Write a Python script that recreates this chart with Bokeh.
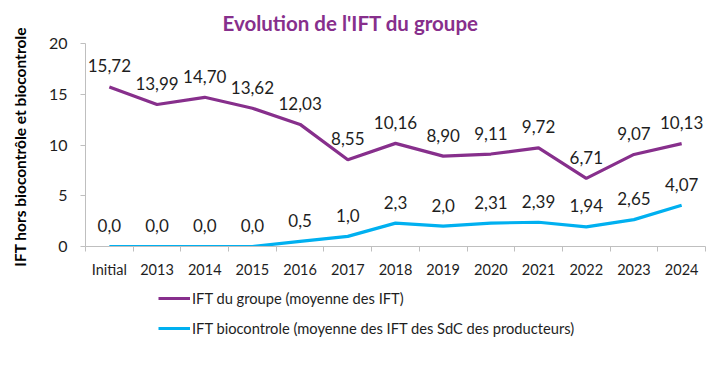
from bokeh.plotting import figure
from bokeh.layouts import column
from bokeh.models import Range1d, FixedTicker, Legend, LegendItem, ColumnDataSource
from bokeh.core.properties import value
from bokeh.embed import file_html
from bokeh.resources import INLINE

categories = ["Initial", "2013", "2014", "2015", "2016", "2017", "2018",
              "2019", "2020", "2021", "2022", "2023", "2024"]
ift_groupe = [15.72, 13.99, 14.70, 13.62, 12.03, 8.55, 10.16, 8.90, 9.11, 9.72, 6.71, 9.07, 10.13]
ift_groupe_labels = ["15,72", "13,99", "14,70", "13,62", "12,03", "8,55", "10,16",
                     "8,90", "9,11", "9,72", "6,71", "9,07", "10,13"]
ift_bio = [0.0, 0.0, 0.0, 0.0, 0.5, 1.0, 2.3, 2.0, 2.31, 2.39, 1.94, 2.65, 4.07]
ift_bio_labels = ["0,0", "0,0", "0,0", "0,0", "0,5", "1,0", "2,3",
                  "2,0", "2,31", "2,39", "1,94", "2,65", "4,07"]
y_ticks = [0, 5, 10, 15, 20]
series_names = ["IFT du groupe (moyenne des IFT)",
                "IFT biocontrole (moyenne des IFT des SdC des producteurs)"]

FONT = "Lato"
PURPLE = "#872F8C"
BLUE = "#00B0F0"
GRAY = "#BFBFBF"
TXT = "#1E1E1E"

xs = [i + 0.5 for i in range(len(categories))]

p = figure(width=708, height=280, output_backend="svg", toolbar_location=None,
           x_range=Range1d(0, len(categories)), y_range=Range1d(0, 20),
           min_border_left=85, min_border_right=3, min_border_top=43,
           min_border_bottom=33)
p.outline_line_color = None
p.xgrid.visible = False
p.ygrid.visible = False

p.title.text = "Evolution de l'IFT du groupe"
p.title.text_font = FONT
p.title.text_font_size = "20.5px"
p.title.text_font_style = "bold"
p.title.text_color = PURPLE
p.title.align = "left"
p.title.offset = 137
p.title.standoff = 17

src = ColumnDataSource(dict(x=xs, g=ift_groupe, gl=ift_groupe_labels,
                            b=ift_bio, bl=ift_bio_labels))

p.line("x", "g", source=src, line_color=PURPLE, line_width=3.2)
p.line("x", "b", source=src, line_color=BLUE, line_width=3.2)

for col in ("gl", "bl"):
    ycol = "g" if col == "gl" else "b"
    p.text("x", ycol, text=col, source=src, text_font=value(FONT),
           text_font_size="17px", text_color=TXT, text_align="center",
           text_baseline="middle", y_offset=-21)

# x axis
xa = p.xaxis[0]
xa.ticker = FixedTicker(ticks=xs, minor_ticks=list(range(len(categories) + 1)))
xa.major_label_overrides = {x: c for x, c in zip(xs, categories)}
xa.major_tick_line_color = None
xa.minor_tick_line_color = GRAY
xa.minor_tick_out = 5
xa.minor_tick_in = 0
xa.axis_line_color = GRAY
xa.major_label_text_font = FONT
xa.major_label_text_font_size = "14.5px"
xa.major_label_text_color = TXT
xa.major_label_standoff = 8

ya = p.yaxis[0]
ya.ticker = FixedTicker(ticks=y_ticks, minor_ticks=[])
ya.axis_line_color = GRAY
ya.major_tick_line_color = GRAY
ya.major_tick_out = 5
ya.major_tick_in = 0
ya.major_label_text_font = FONT
ya.major_label_text_font_size = "16px"
ya.major_label_text_color = TXT
ya.major_label_standoff = 13
ya.axis_label = "IFT  hors biocontrôle et biocontrole"
ya.axis_label_text_font = FONT
ya.axis_label_text_font_size = "15.5px"
ya.axis_label_text_font_style = "bold"
ya.axis_label_text_color = "#000000"
ya.axis_label_standoff = 17

# legend in a separate strip below the chart; its line renderers reuse the
# series data but lie outside this strip's visible range
q = figure(width=708, height=94, output_backend="svg", toolbar_location=None,
           x_range=Range1d(0, len(categories)), y_range=Range1d(-200, -199),
           min_border_left=0, min_border_right=0, min_border_top=0,
           min_border_bottom=0)
q.axis.visible = False
q.grid.visible = False
q.outline_line_color = None
l1 = q.line("x", "g", source=src, line_color=PURPLE, line_width=3.2)
l2 = q.line("x", "b", source=src, line_color=BLUE, line_width=3.2)

legend = Legend(items=[
    LegendItem(label=series_names[0], renderers=[l1]),
    LegendItem(label=series_names[1], renderers=[l2]),
], location=(73, 36), orientation="vertical")
legend.label_text_font = FONT
legend.label_text_font_size = "14.7px"
legend.label_text_color = TXT
legend.glyph_width = 32
legend.glyph_height = 20
legend.label_height = 20
legend.label_standoff = 2
legend.spacing = 10
legend.padding = 0
legend.margin = 0
legend.border_line_color = None
legend.background_fill_alpha = 0
q.add_layout(legend, "center")

open("out.html", "w").write(file_html(column(p, q, spacing=0), INLINE))
